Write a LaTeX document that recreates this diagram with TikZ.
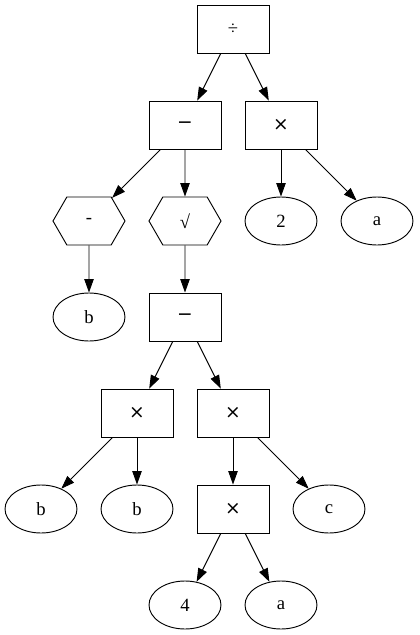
\documentclass[tikz,border=0pt]{standalone}
\usepackage{fontspec}
\setmainfont{Liberation Serif}
\newfontfamily\symfont{DejaVu Sans}
\usetikzlibrary{positioning,arrows.meta,shapes.geometric,shapes.symbols}
\tikzset{
  opbox/.style={draw,rectangle,minimum width=54pt,minimum height=36pt,inner sep=1pt},
  leaf/.style={draw,ellipse,minimum width=54pt,minimum height=36pt,inner sep=1pt},
  unary/.style={draw,signal,signal to=east and west,signal pointer angle=120,minimum width=54pt,minimum height=36pt,inner sep=1pt},
  every edge/.style={draw,->,>={Triangle[length=10pt,width=7pt]}},
}

\begin{document}
\begin{tikzpicture}[line width=0.7pt,node distance=72pt and 36pt,on grid,font=\fontsize{14pt}{16pt}\selectfont]

\useasboundingbox (-174.75pt,21.75pt) rectangle (139.5pt,-454.5pt);

\node[opbox] (div) {÷};
\node[opbox,below left=of div] (sub1) {\symfont −};
\node[opbox,below right=of div] (mul1) {\symfont ×};
\node[unary,below left=72pt and 72pt of sub1] (neg) {-};
\node[unary,below=of sub1] (sqrt) {√};
\node[leaf,below=of mul1] (two) {2};
\node[leaf,below right=72pt and 72pt of mul1] (a1) {a};
\node[leaf,below=of neg] (b1) {b};
\node[opbox,below=of sqrt] (sub2) {\symfont −};
\node[opbox,below left=of sub2] (mul2) {\symfont ×};
\node[opbox,below right=of sub2] (mul3) {\symfont ×};
\node[leaf,below left=72pt and 72pt of mul2] (b2) {b};
\node[leaf,below=of mul2] (b3) {b};
\node[opbox,below=of mul3] (mul4) {\symfont ×};
\node[leaf,below right=72pt and 72pt of mul3] (c) {c};
\node[leaf,below left=of mul4] (four) {4};
\node[leaf,below right=of mul4] (a2) {a};

\path
(div) edge (sub1)
(div) edge (mul1)
(sub1) edge (neg)
(sub1) edge (sqrt)
(mul1) edge (two)
(mul1) edge (a1)
(neg) edge (b1)
(sqrt) edge (sub2)
(sub2) edge (mul2)
(sub2) edge (mul3)
(mul2) edge (b2)
(mul2) edge (b3)
(mul3) edge (mul4)
(mul3) edge (c)
(mul4) edge (four)
(mul4) edge (a2);

\end{tikzpicture}
\end{document}
